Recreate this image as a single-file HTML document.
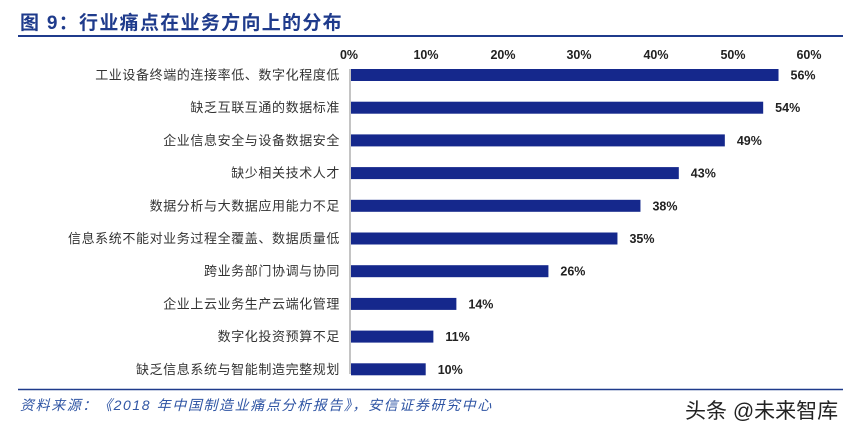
<!DOCTYPE html>
<html><head><meta charset="utf-8"><style>
body{margin:0;width:857px;height:433px;background:#fff;position:relative;overflow:hidden;font-family:"Liberation Sans","Noto Sans CJK SC",sans-serif}
.t{position:absolute;white-space:nowrap}
</style></head><body>
<div class="t" style="left:20px;top:8px;font-size:19px;font-weight:bold;color:#1f3b8c;letter-spacing:1.3px">图 9：行业痛点在业务方向上的分布</div>
<div style="position:absolute;left:18px;top:35px;width:825px;height:2px;background:#1f3b8c"></div>
<svg width="857" height="433" style="position:absolute;left:0;top:0" font-family="Liberation Sans, Noto Sans CJK SC, sans-serif">
<g font-size="12.5" font-weight="bold" fill="#222" text-anchor="middle">
<text x="349" y="59">0%</text><text x="426" y="59">10%</text><text x="503" y="59">20%</text><text x="579" y="59">30%</text><text x="656" y="59">40%</text><text x="733" y="59">50%</text><text x="809" y="59">60%</text>
</g>
<line x1="350" y1="69" x2="350" y2="374" stroke="#888" stroke-width="1"/>
<g id="bars"></g>
<line x1="18" y1="389.5" x2="843" y2="389.5" stroke="#1f3b8c" stroke-width="1.5"/>
</svg>
<div class="t" style="left:20px;top:395px;font-size:14px;font-style:italic;color:#2f55a4;letter-spacing:1.6px">资料来源：《2018 年中国制造业痛点分析报告》，安信证券研究中心</div>
<div class="t" style="left:685px;top:395px;font-size:21px;color:#222">头条 @未来智库</div>
<script>
var d=[["工业设备终端的连接率低、数字化程度低",56],["缺乏互联互通的数据标准",54],["企业信息安全与设备数据安全",49],["缺少相关技术人才",43],["数据分析与大数据应用能力不足",38],["信息系统不能对业务过程全覆盖、数据质量低",35],["跨业务部门协调与协同",26],["企业上云业务生产云端化管理",14],["数字化投资预算不足",11],["缺乏信息系统与智能制造完整规划",10]];
var s="";d.forEach(function(r,i){var c=75+i*32.7,w=r[1]*7.67;
s+='<rect x="351" y="'+(c-6)+'" width="'+(w-2)+'" height="12" fill="#15288c"/>';
s+='<text x="340" y="'+(c+4.5)+'" font-size="13" letter-spacing="0.6" fill="#333" text-anchor="end">'+r[0]+'</text>';
s+='<text x="'+(349+w+12)+'" y="'+(c+4.5)+'" font-size="12.5" font-weight="bold" fill="#222">'+r[1]+'%</text>';});
document.getElementById("bars").innerHTML=s;
</script>
</body></html>
